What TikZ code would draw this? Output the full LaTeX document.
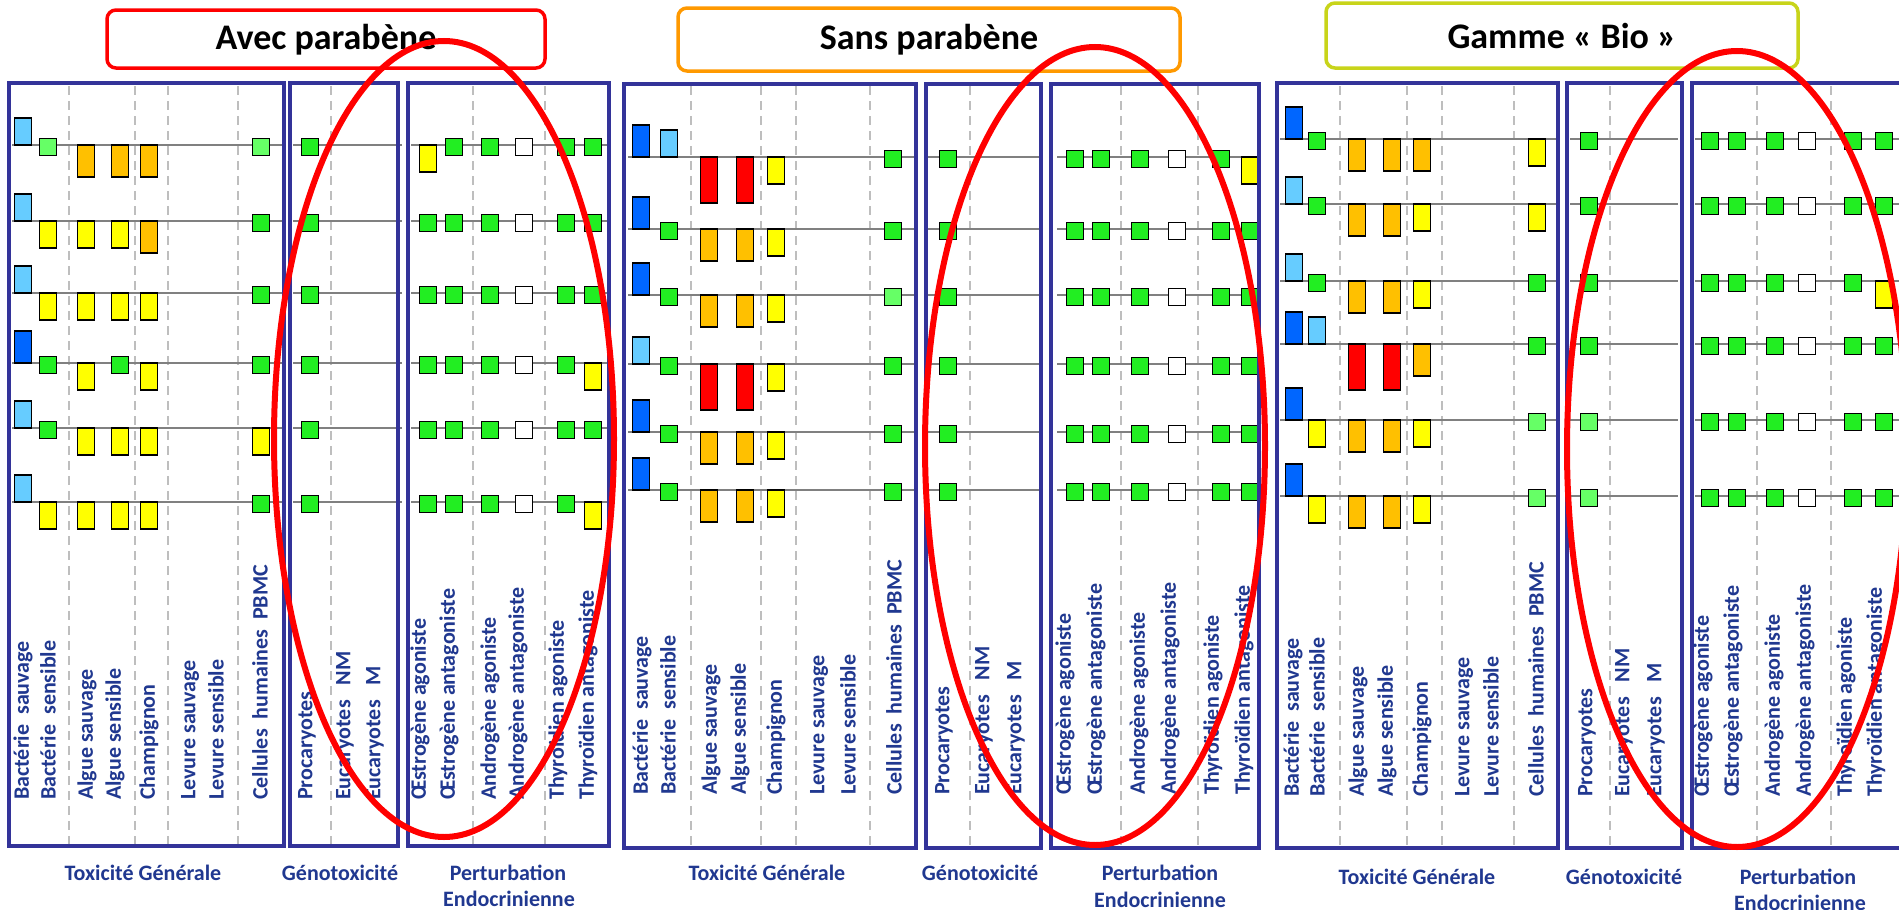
\documentclass[tikz,border=0pt]{standalone}
\usepackage{fontspec}
\setmainfont{Carlito}
\definecolor{navy}{RGB}{51,51,153}
\definecolor{txt}{RGB}{32,56,144}
\definecolor{cDB}{RGB}{0,102,255}
\definecolor{cLB}{RGB}{102,204,255}
\definecolor{cG}{RGB}{34,238,34}
\definecolor{cLG}{RGB}{102,255,102}
\definecolor{cY}{RGB}{255,255,0}
\definecolor{cO}{RGB}{255,192,0}
\definecolor{cR}{RGB}{255,0,0}
\definecolor{dashgray}{RGB}{190,190,190}
\definecolor{linegray}{RGB}{128,128,128}
\definecolor{orangeT}{RGB}{255,153,0}
\definecolor{limeT}{RGB}{200,212,26}
\tikzset{
  mk/.style={draw=black,line width=1.3pt,minimum width=17pt,inner sep=0pt,outer sep=0pt},
  panel/.style={draw=navy,line width=3.5pt},
  sep/.style={draw=dashgray,line width=1.5pt,dash pattern=on 9pt off 6pt},
  rowline/.style={draw=linegray,line width=2pt},
  lab/.style={rotate=90,anchor=west,inner sep=0pt,text=txt,font=\fontsize{22}{22}\selectfont\bfseries},
  blab/.style={inner sep=0pt,text=txt,font=\fontsize{22}{22}\selectfont\bfseries},
  ttl/.style={inner sep=0pt,text=black,font=\fontsize{36}{36}\selectfont\bfseries},
  tbox/.style={line width=3.5pt,rounded corners=9pt,fill=white},
  oval/.style={draw=cR,line width=6pt}
}
\newcommand\mkrDB[3]{\node[mk,anchor=south,fill=cDB,minimum height=32pt] (#1) at (#2,#3) {};}
\newcommand\mkrLB[3]{\node[mk,anchor=south,fill=cLB,minimum height=27pt] (#1) at (#2,#3) {};}
\newcommand\mkrG[3]{\node[mk,fill=cG,minimum height=17pt] (#1) at (#2,#3+2) {};}
\newcommand\mkrLG[3]{\node[mk,fill=cLG,minimum height=17pt] (#1) at (#2,#3+2) {};}
\newcommand\mkrW[3]{\node[mk,fill=white,minimum height=17pt] (#1) at (#2,#3+2) {};}
\newcommand\mkrY[3]{\node[mk,anchor=north,fill=cY,minimum height=27pt] (#1) at (#2,#3) {};}
\newcommand\mkrO[3]{\node[mk,anchor=north,fill=cO,minimum height=32pt] (#1) at (#2,#3) {};}
\newcommand\mkrR[3]{\node[mk,anchor=north,fill=cR,minimum height=46pt] (#1) at (#2,#3) {};}
\def\colsA{{23,48,86,120,149,261,310,428,454,490,524,566,593}}
\def\colsB{{641,669,709,745,776,893,948,1075,1101,1140,1177,1221,1250}}
\def\colsC{{1294,1317,1357,1392,1422,1537,1589,1710,1737,1775,1807,1853,1884}}
\begin{document}
\begin{tikzpicture}[x=1pt,y=-1pt]
\useasboundingbox (0,0) rectangle (1899,910);
\clip (0,0) rectangle (1899,910);
\fill[white] (0,0) rectangle (1899,910);
% dashed separators
\foreach \xx in {69,135,168,238,331,473,545,691,761,796,870,970,1121,1198,1340,1407,1442,1514,1610,1757,1831}
  \draw[sep] (\xx,86) -- (\xx,846);
% row lines
\foreach \yy in {145,221,293,363,428,502}{
  \draw[rowline] (12,\yy) -- (282,\yy);
  \draw[rowline] (293,\yy) -- (402,\yy);
  \draw[rowline] (411,\yy) -- (607,\yy);
}
\foreach \yy in {157,229,295,364,432,490}{
  \draw[rowline] (628,\yy) -- (915,\yy);
  \draw[rowline] (928,\yy) -- (1040,\yy);
  \draw[rowline] (1057,\yy) -- (1259,\yy);
}
\foreach \yy in {139,204,281,344,420,496}{
  \draw[rowline] (1280,\yy) -- (1557,\yy);
  \draw[rowline] (1570,\yy) -- (1678,\yy);
  \draw[rowline] (1695,\yy) -- (1899,\yy);
}
% markers set A
\foreach \y/\types [count=\r] in {
  145/{LB,LG,O,O,O,LG,G,Y,G,G,W,G,G},
  221/{LB,Y,Y,Y,O,G,G,G,G,G,W,G,G},
  293/{LB,Y,Y,Y,Y,G,G,G,G,G,W,G,G},
  363/{DB,G,Y,G,Y,G,G,G,G,G,W,G,Y},
  428/{LB,G,Y,Y,Y,Y,G,G,G,G,W,G,G},
  502/{LB,Y,Y,Y,Y,G,G,G,G,G,W,G,Y}}{
  \foreach \t [count=\i] in \types {
    \pgfmathsetmacro\xx{\colsA[\i-1]}
    \csname mkr\t\endcsname{a\r-\i}{\xx}{\y}
  }
}
% markers set B
\foreach \y/\types [count=\r] in {
  157/{DB,LB,R,R,Y,G,G,G,G,G,W,G,Y},
  229/{DB,G,O,O,Y,G,G,G,G,G,W,G,G},
  295/{DB,G,O,O,Y,LG,G,G,G,G,W,G,G},
  364/{LB,G,R,R,Y,G,G,G,G,G,W,G,G},
  432/{DB,G,O,O,Y,G,G,G,G,G,W,G,G},
  490/{DB,G,O,O,Y,G,G,G,G,G,W,G,G}}{
  \foreach \t [count=\i] in \types {
    \pgfmathsetmacro\xx{\colsB[\i-1]}
    \csname mkr\t\endcsname{b\r-\i}{\xx}{\y}
  }
}
% markers set C
\foreach \y/\types [count=\r] in {
  139/{DB,G,O,O,O,Y,G,G,G,G,W,G,G},
  204/{LB,G,O,O,Y,Y,G,G,G,G,W,G,G},
  281/{LB,G,O,O,Y,G,G,G,G,G,W,G,Y},
  344/{DB,LB,R,R,O,G,G,G,G,G,W,G,G},
  420/{DB,Y,O,O,Y,LG,LG,G,G,G,W,G,G},
  496/{DB,Y,O,O,Y,LG,LG,G,G,G,W,G,G}}{
  \foreach \t [count=\i] in \types {
    \pgfmathsetmacro\xx{\colsC[\i-1]}
    \csname mkr\t\endcsname{c\r-\i}{\xx}{\y}
  }
}
% panels
\draw[panel] (9,83) rectangle (284,846);
\draw[panel] (290,83) rectangle (398,846);
\draw[panel] (408,83) rectangle (609,846);
\draw[panel] (624,84) rectangle (916,848);
\draw[panel] (926,84) rectangle (1041,848);
\draw[panel] (1051,84) rectangle (1259,848);
\draw[panel] (1277,83) rectangle (1558,848);
\draw[panel] (1567,83) rectangle (1682,848);
\draw[panel] (1692,83) rectangle (1912,848);
% rotated labels
\foreach \s/\yb/\xs in {A/800/{23,48,87,115,149,190,216,260,307,345,375,420,449,490,518,558,588},
                         B/795/{642,668,711,740,776,819,848,894,944,984,1016,1065,1096,1139,1170,1213,1244},
                         C/797/{1293,1317,1358,1387,1422,1464,1491,1536,1587,1624,1656,1703,1733,1774,1805,1846,1876}}{
  \foreach \lt [count=\k] in {Bactérie~~sauvage,Bactérie~~sensible,Algue sauvage,Algue sensible,Champignon,Levure sauvage,Levure sensible,Cellules~~humaines~~PBMC,Procaryotes,Eucaryotes~~~NM,Eucaryotes~~~M,Œstrogène agoniste,Œstrogène antagoniste,Androgène agoniste,Androgène antagoniste,Thyroïdien agoniste,Thyroïdien antagoniste}{
    \pgfmathsetmacro\lx{{\xs}[\k-1]}
    \node[lab] (l\s\k) at (\lx,\yb) {\lt};
  }
}
% bottom labels
\node[blab] (tgA) at (143,873) {Toxicité Générale};
\node[blab] (gnA) at (340,873) {Génotoxicité};
\node[blab] (peA) at (508,873) {Perturbation};
\node[blab] (enA) at (509,899) {Endocrinienne};
\node[blab] (tgB) at (767,873) {Toxicité Générale};
\node[blab] (gnB) at (980,873) {Génotoxicité};
\node[blab] (peB) at (1160,873) {Perturbation};
\node[blab] (enB) at (1160,900) {Endocrinienne};
\node[blab] (tgC) at (1417,877) {Toxicité Générale};
\node[blab] (gnC) at (1624,877) {Génotoxicité};
\node[blab] (peC) at (1798,877) {Perturbation};
\node[blab] (enC) at (1800,903) {Endocrinienne};
% titles
\draw[tbox,draw=cR] (107,10) rectangle (545,68);
\node[ttl] (tA) at (326,40) {Avec parabène};
\draw[tbox,draw=orangeT] (678,8) rectangle (1180,71);
\node[ttl] (tB) at (929,40) {Sans parabène};
\draw[tbox,draw=limeT] (1326,3) rectangle (1798,68);
\node[ttl] (tC) at (1562,36) {Gamme « Bio »};
% red ovals
\draw[oval] (444,439) ellipse [x radius=170, y radius=398];
\draw[oval] (1095,446) ellipse [x radius=170, y radius=399];
\draw[oval] (1737,449) ellipse [x radius=170, y radius=398];
\end{tikzpicture}
\end{document}
